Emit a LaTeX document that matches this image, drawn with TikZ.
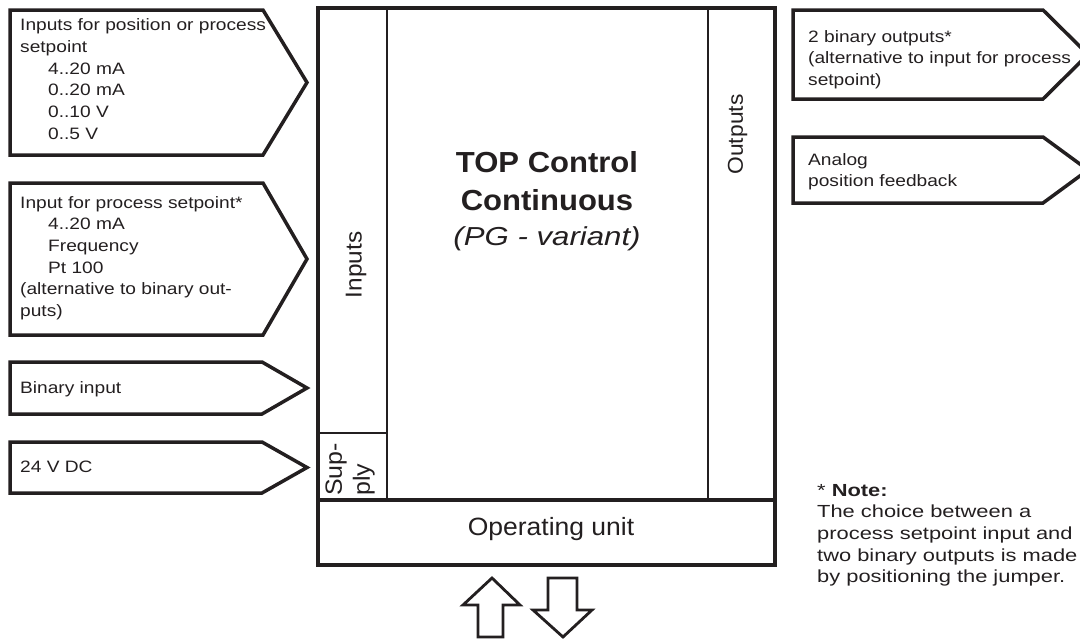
\documentclass[tikz,border=0pt]{standalone}
\usepackage{fontspec}
\setmainfont{Liberation Sans}
\newfontfamily\bxf[FakeStretch=1.16]{Liberation Sans}
\newfontfamily\notef[FakeStretch=1.25]{Liberation Sans}
\newfontfamily\ttlf[FakeStretch=1.07]{Liberation Sans}
\newfontfamily\itf[FakeStretch=1.2]{Liberation Sans}
\newfontfamily\lblf[FakeStretch=1.06]{Liberation Sans}
\definecolor{ink}{HTML}{231F20}
\begin{document}
\begin{tikzpicture}[x=1pt,y=-1pt,
  pent/.style={draw=ink,line width=3.5pt,line join=miter},
  frame/.style={draw=ink,line width=3.5pt},
  thin/.style={draw=ink,line width=2.8pt},
  boxtxt/.style={inner sep=0pt,text=ink,align=left,font=\bxf\fontsize{16.5}{21.7}\selectfont},
  notetxt/.style={inner sep=0pt,text=ink,align=left,font=\notef\fontsize{17.5}{21.7}\selectfont},
  lbl/.style={inner sep=0pt,text=ink,font=\lblf\fontsize{21.5}{27}\selectfont},
  arr/.style={draw=ink,line width=2.8pt,line join=miter,fill=white}]
\useasboundingbox (0,0) rectangle (1080,640);
% input pentagons
\draw[pent] (10,10) -- (263,10) -- (307,82.5) -- (263,155) -- (10,155) -- cycle;
\draw[pent] (10,183) -- (263,183) -- (307,259) -- (263,335) -- (10,335) -- cycle;
\draw[pent] (10,362) -- (262,362) -- (307,388) -- (262,414) -- (10,414) -- cycle;
\draw[pent] (10,442) -- (262,442) -- (307,467.5) -- (262,493) -- (10,493) -- cycle;
% output pentagons
\draw[pent] (793,10) -- (1043,10) -- (1088,54.5) -- (1043,99) -- (793,99) -- cycle;
\draw[pent] (793,137) -- (1043,137) -- (1088,170) -- (1043,203) -- (793,203) -- cycle;
% main block
\draw[frame] (318,8) rectangle (775,565);
\draw[frame] (318,500) -- (775,500);
\draw[thin] (387,8) -- (387,500);
\draw[thin] (708,8) -- (708,500);
\draw[thin] (318,433) -- (387,433);
% texts in pentagons
\node[boxtxt,anchor=north west] (in1) at (20,15.5) {\strut Inputs for position or process\\setpoint\\\hspace*{28pt}4..20 mA\\\hspace*{28pt}0..20 mA\\\hspace*{28pt}0..10 V\\\hspace*{28pt}0..5 V};
\node[boxtxt,anchor=north west] (in2) at (20,192.8) {\strut Input for process setpoint*\\\hspace*{28pt}4..20 mA\\\hspace*{28pt}Frequency\\\hspace*{28pt}Pt 100\\(alternative to binary out-\\puts)};
\node[boxtxt,anchor=base west] (in3) at (20,393) {Binary input};
\node[boxtxt,anchor=base west] (in4) at (20,472) {24 V DC};
\node[boxtxt,anchor=north west] (out1) at (808,26.8) {\strut 2 binary outputs*\\(alternative to input for process\\setpoint)};
\node[boxtxt,anchor=north west] (out2) at (808,149.8) {\strut Analog\\position feedback};
% labels in main block
\node[lbl,rotate=90,font=\lblf\fontsize{23}{28}\selectfont] (inputs) at (356,265) {Inputs};
\node[lbl,rotate=90] (outputs) at (737.5,134.5) {Outputs};
\node[lbl,anchor=base,font=\lblf\fontsize{25}{30}\selectfont] (opunit) at (551,535) {Operating unit};
\node[inner sep=0pt,text=ink,align=left,rotate=90,anchor=north west,font=\lblf\fontsize{23.5}{28}\selectfont] (supply) at (322,496) {\strut Sup-\\ply};
\node[inner sep=0pt,text=ink,anchor=base,font=\ttlf\bfseries\fontsize{29}{36}\selectfont] (t1) at (547,172) {TOP Control};
\node[inner sep=0pt,text=ink,anchor=base,font=\ttlf\bfseries\fontsize{29}{36}\selectfont] (t2) at (547,210) {Continuous};
\node[inner sep=0pt,text=ink,anchor=base,font=\itf\itshape\fontsize{26}{36}\selectfont] (t3) at (547,245) {(PG - variant)};
% note
\node[notetxt,anchor=north west] (note) at (817,480.8) {\strut * \textbf{Note:}\\The choice between a\\process setpoint input and\\two binary outputs is made\\by positioning the jumper.};
% operating arrows
\draw[arr] (478,637) -- (478,605) -- (463,605) -- (492,578) -- (520,605) -- (503,605) -- (503,637) -- cycle;
\draw[arr] (548,578) -- (577,578) -- (577,610) -- (592,610) -- (563,637) -- (533,610) -- (548,610) -- cycle;
\end{tikzpicture}
\end{document}
